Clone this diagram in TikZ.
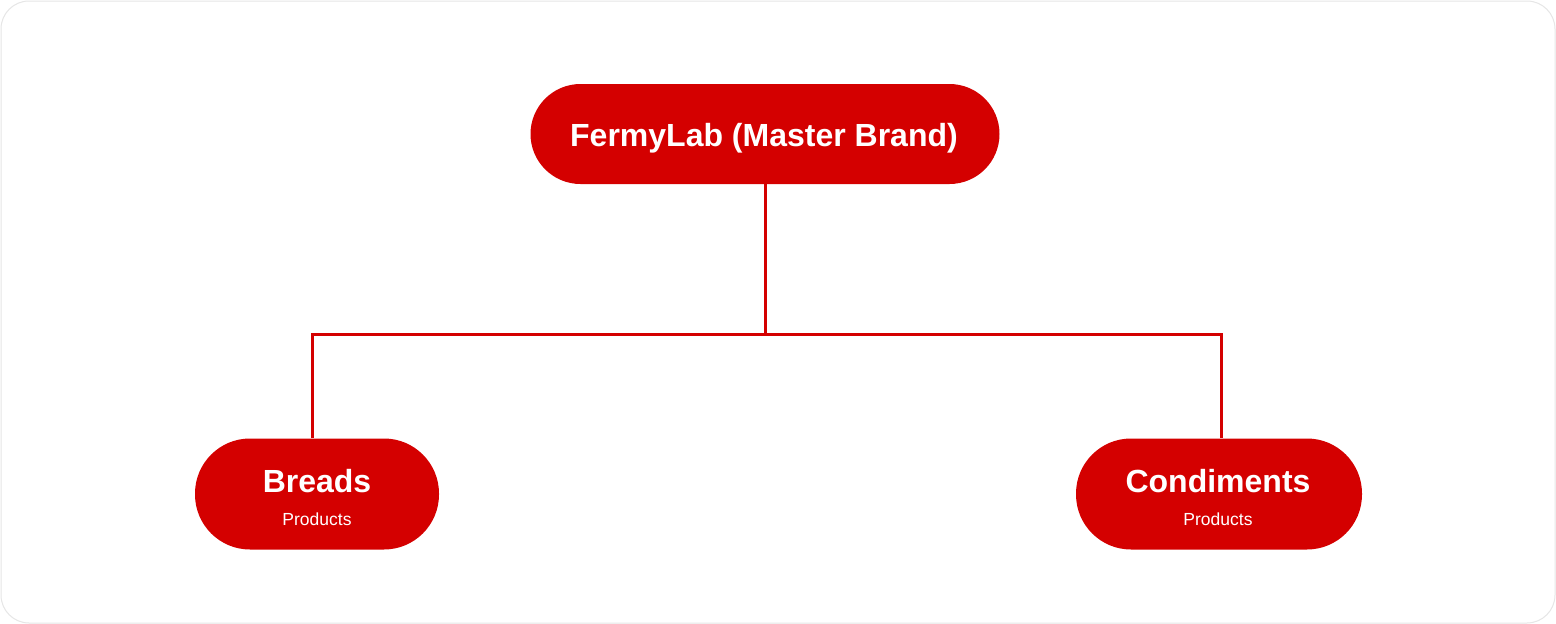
\documentclass[tikz,border=0pt]{standalone}
\usepackage{fontspec}
\setmainfont{Liberation Sans}
\definecolor{brandred}{HTML}{D40000}
\definecolor{frame}{HTML}{E6E6E6}
\begin{document}
\begin{tikzpicture}[x=1pt,y=-1pt,
  pill/.style={fill=brandred, draw=none, rounded corners=#1, inner sep=0pt},
  conn/.style={draw=brandred, line width=3pt},
  titletext/.style={text=white, anchor=base, inner sep=0pt, font=\fontsize{32}{38}\selectfont\bfseries},
  headtext/.style={text=white, anchor=base, inner sep=0pt, font=\fontsize{32}{38}\selectfont\bfseries},
  subtext/.style={text=white, anchor=base, inner sep=0pt, font=\fontsize{17.5}{21}\selectfont}]
\useasboundingbox (0,0) rectangle (1556,624);
\draw[draw=frame, line width=1pt, rounded corners=28pt, fill=white] (1,1) rectangle (1555,623);
% nodes
\node[pill=50pt, minimum width=469pt, minimum height=100pt] (top) at (765,134) {};
\node[titletext] (toptext) at (764,146) {FermyLab (Master Brand)};
\node[pill=55pt, minimum width=244pt, minimum height=111pt] (bread) at (317,494) {};
\node[headtext] (breadtext) at (317,492) {Breads};
\node[subtext] (breadsub) at (317,525) {Products};
\node[pill=55pt, minimum width=286pt, minimum height=111pt] (cond) at (1219,494) {};
\node[headtext] (condtext) at (1218,492) {Condiments};
\node[subtext] (condsub) at (1218,525) {Products};
% connectors
\coordinate (bl) at (312,334);
\coordinate (br) at (1221,334);
\draw[conn] (top.south) -- (top.south |- bl);
\draw[conn] (bread.north -| bl) -- (bl) -- (br) -- (cond.north -| br);
\end{tikzpicture}
\end{document}
